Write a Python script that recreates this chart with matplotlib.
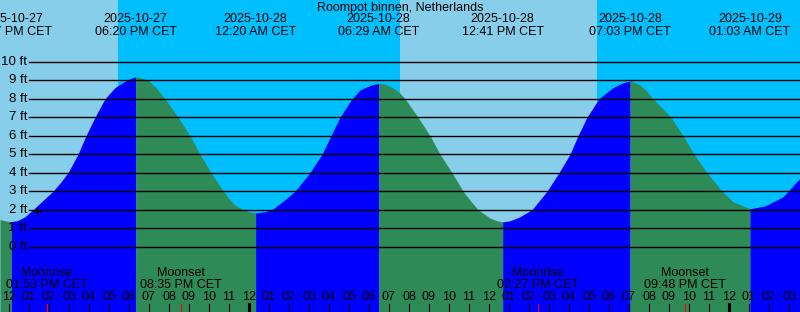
import numpy as np
import matplotlib
matplotlib.use("Agg")
import matplotlib.pyplot as plt

plt.rcParams['font.family'] = ['Liberation Sans', 'DejaVu Sans']

# hours after 2025-10-27 12:00 CET
horas = [-0.45, -0.2, 0.117, 0.45, 0.8, 1.2, 1.7, 2.2, 2.6, 2.95, 3.45, 3.85, 4.3, 4.8,
         5.3, 5.65, 5.9, 6.15, 6.333, 6.6, 6.95, 7.35, 7.8, 8.45, 9.05, 9.55, 10.1, 10.72,
         11.0, 11.3, 11.7, 12.0, 12.333, 12.75, 13.15, 13.7, 14.3, 15.05, 15.65, 16.1,
         16.55, 17.15, 17.55, 17.8, 18.15, 18.483, 18.8, 19.15, 19.55, 19.8, 20.45, 21.05,
         21.55, 22.15, 22.7, 23.1, 23.45, 24.05, 24.4, 24.683, 25.05, 25.55, 26.15, 26.9,
         27.5, 28.05, 28.45, 28.9, 29.5, 30.2, 30.7, 31.05, 31.55, 31.85, 32.2, 33.1, 33.7,
         34.25, 34.9, 35.65, 36.2, 37.05, 37.8, 38.7, 39.55]
alturas = [1.47, 1.40, 1.35, 1.42, 1.62, 2.0, 2.5, 3.0, 3.5, 4.0, 5.0, 6.0, 7.0, 8.0,
           8.6, 8.85, 9.0, 9.12, 9.18, 9.12, 9.0, 8.6, 8.0, 7.0, 6.0, 5.0, 4.0, 3.0,
           2.6, 2.25, 2.0, 1.88, 1.82, 1.88, 2.0, 2.45, 3.0, 4.0, 5.0, 6.0,
           7.0, 8.0, 8.47, 8.6, 8.75, 8.83, 8.78, 8.62, 8.3, 8.0, 7.0, 6.0,
           5.0, 4.0, 3.0, 2.45, 2.0, 1.55, 1.4, 1.34, 1.4, 1.62, 2.0, 3.0,
           4.0, 5.0, 6.0, 7.0, 8.0, 8.6, 8.85, 8.97, 8.74, 8.45, 8.0, 7.0, 6.0,
           5.0, 4.0, 3.0, 2.43, 2.05, 2.2, 2.7, 3.7]

# extremos de marea
ext_horas = [0.117, 6.333, 12.333, 18.483, 24.683, 31.05, 37.05]
ext_fechas = ['2025-10-27', '2025-10-27', '2025-10-28', '2025-10-28', '2025-10-28', '2025-10-28', '2025-10-29']
ext_textos = ['12:07 PM CET', '06:20 PM CET', '12:20 AM CET', '06:29 AM CET', '12:41 PM CET', '07:03 PM CET', '01:03 AM CET']

# sol: puesta / salida
sol_horas = [5.45, 19.55, 29.4]

# luna
luna_horas = [1.883, 8.583, 26.45, 33.8]
luna_nombres = ['Moonrise', 'Moonset', 'Moonrise', 'Moonset']
luna_textos = ['01:53 PM CET', '08:35 PM CET', '02:27 PM CET', '09:48 PM CET']

niveles = list(range(0, 11))
marca_hora = 1.4
marca_altura = 1.93

x0, x1 = -0.45, 39.55

# pixeles -> pies (18.5 px por pie, 0 ft en y=246.7)
def py(y):
	return (246.7 - y) / 18.5

# pixeles -> horas (20 px por hora)
def px(x):
	return x / 20.0 + x0

fig = plt.figure(figsize=(8, 3.12), dpi=100)
ax = fig.add_axes([0, 0, 1, 1])
ax.set_xlim(x0, x1)
ax.set_ylim(py(312), py(0))
ax.axis('off')

dia = '#87ceeb'
noche = '#00bfff'
bordes = [x0] + sol_horas + [x1]
for i in range(len(bordes) - 1):
	ax.axvspan(bordes[i], bordes[i + 1], color=dia if i % 2 == 0 else noche, lw=0, zorder=0)

# relleno de la marea: azul subiendo, verde bajando
h = np.array(horas)
a = np.array(alturas)
cortes = [x0] + ext_horas + [x1]
for i in range(len(cortes) - 1):
	sel = (h >= cortes[i]) & (h <= cortes[i + 1])
	color = '#2e8b57' if i % 2 == 0 else '#0000ff'
	ax.fill_between(h[sel], a[sel], py(312), color=color, lw=0, zorder=1)

for n in niveles:
	ax.plot([px(29), x1], [n, n], color='black', lw=1.0, zorder=2)
	ax.text(px(27), n, '%d ft' % n, ha='right', va='center', fontsize=9.5, zorder=3)

ax.plot(marca_hora, marca_altura, marker='+', color='black', ms=6, mew=1, zorder=3)

ax.text((x0 + x1) / 2, py(7.5), 'Roompot binnen, Netherlands', ha='center', va='center', fontsize=9)
for t, f, s in zip(ext_horas, ext_fechas, ext_textos):
	ax.text(t, py(19.5), f, ha='center', va='center', fontsize=9)
	ax.text(t, py(32), s, ha='center', va='center', fontsize=9)

for t, n, s in zip(luna_horas, luna_nombres, luna_textos):
	ax.text(t, py(273), n, ha='center', va='center', fontsize=9)
	ax.text(t, py(285), s, ha='center', va='center', fontsize=9)

# etiquetas y marcas de horas
for k in range(0, 40):
	hora = (12 + k) % 12
	if hora == 0:
		hora = 12
	ax.text(k, py(297.5), '%02d' % hora, ha='center', va='center', fontsize=9)
	if (12 + k) % 24 == 0:
		ax.plot([k, k], [py(304), py(312)], color='black', lw=2.2)
	else:
		ax.plot([k, k], [py(304), py(312)], color='black', lw=0.8)
for t in luna_horas:
	ax.plot([t, t], [py(304), py(312)], color='red', lw=0.8)

plt.savefig('out.png', dpi=100)
